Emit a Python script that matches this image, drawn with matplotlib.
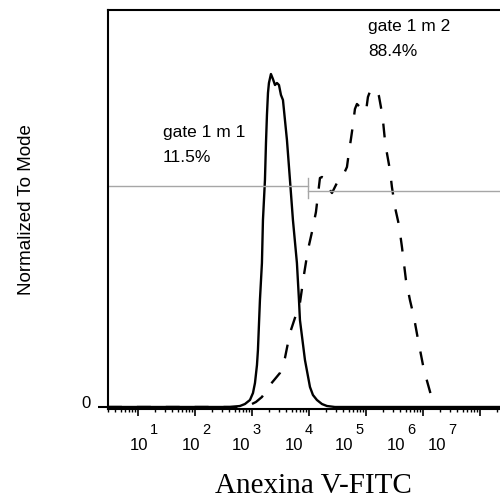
import numpy as np
import matplotlib
matplotlib.use("Agg")
import matplotlib.pyplot as plt

plt.rcParams['lines.scale_dashes'] = False

# ---- data (log10 fluorescence, normalized-to-mode %) ----
solid_log10 = [0.474, 2.088, 2.614, 2.789, 2.877, 2.965, 3.018, 3.053, 3.088, 3.105,
               3.140, 3.175, 3.193, 3.228, 3.246, 3.263, 3.281, 3.298, 3.333, 3.368,
               3.404, 3.439, 3.474, 3.509, 3.544, 3.579, 3.614, 3.667, 3.719, 3.789,
               3.825, 3.842, 3.930, 4.018, 4.070, 4.140, 4.228, 4.316, 4.456, 7.351]
solid_norm = [0.0, 0.0, 0.0, 0.25, 0.75, 1.75, 3.5, 6.0, 10.5, 14.25,
              26.75, 36.0, 46.75, 56.75, 66.0, 73.0, 78.5, 81.0, 83.25, 82.0,
              80.5, 81.0, 80.5, 78.0, 76.75, 71.75, 66.75, 56.75, 46.75, 36.0,
              26.75, 21.75, 11.75, 5.0, 3.0, 1.75, 0.75, 0.25, 0.0, 0.0]

dash_log10 = [0.474, 2.789, 2.965, 3.070, 3.175, 3.246, 3.316, 3.404, 3.491, 3.579,
              3.667, 3.754, 3.842, 3.912, 3.982, 4.053, 4.123, 4.158, 4.193, 4.228,
              4.263, 4.316, 4.368, 4.404, 4.456, 4.491, 4.579, 4.667, 4.702, 4.737,
              4.772, 4.807, 4.842, 4.912, 4.965, 5.000, 5.035, 5.088, 5.140, 5.193,
              5.228, 5.263, 5.298, 5.333, 5.368, 5.421, 5.456, 5.509, 5.579, 5.632,
              5.702, 5.772, 5.842, 5.912, 6.018, 6.175]
dash_norm = [0.0, 0.0, 0.5, 1.25, 2.5, 4.0, 5.5, 7.0, 8.5, 12.25,
             18.5, 22.25, 26.0, 33.0, 39.25, 43.75, 48.75, 53.0, 57.25, 57.5,
             57.25, 55.5, 54.25, 53.5, 55.0, 56.0, 57.25, 60.0, 63.75, 67.0,
             70.5, 74.5, 75.75, 74.75, 74.25, 73.75, 77.5, 79.5, 79.5, 79.0,
             77.75, 75.0, 71.75, 66.75, 63.5, 59.25, 55.0, 50.0, 45.5, 40.0,
             31.75, 26.75, 22.5, 17.0, 9.25, 1.25]

gate_boundary_log10 = 3.982
gates = [("gate 1 m 1", "11.5%"), ("gate 1 m 2", "88.4%")]
exponents = ["1", "2", "3", "4", "5", "6", "7"]
xlabel = "Anexina V-FITC"
ylabel = "Normalized To Mode"

# ---- layout helpers (figure pixel coordinates, 500x500) ----
W = H = 500.0
def fp(px, py):
    return (px / W, 1 - py / H)

fig = plt.figure(figsize=(5, 5), dpi=100)
ax = fig.add_axes([108 / W, 1 - 409 / H, 393 / W, 399 / H])

xs = 10 ** np.array(solid_log10)
xd = 10 ** np.array(dash_log10)
ax.plot(xd, dash_norm, color='black', lw=1.7, linestyle=(0, (10.0, 10.8)),
        solid_capstyle='butt', dash_capstyle='butt')
ax.plot(xs, solid_norm, color='black', lw=1.7, solid_joinstyle='round')

ax.set_xscale('log')
ax.set_xlim(10 ** 0.474, 10 ** 7.37)
ax.set_ylim(-0.5, 99.25)

# gate marker
gb = 10 ** gate_boundary_log10
gcol = '#a6a6a6'
ax.plot([ax.get_xlim()[0], gb], [55.25, 55.25], color=gcol, lw=1.0)
ax.plot([gb, ax.get_xlim()[1]], [54.0, 54.0], color=gcol, lw=1.0)
ax.plot([gb, gb], [52.25, 57.25], color=gcol, lw=1.0)

for s in ['top', 'left', 'bottom']:
    ax.spines[s].set_linewidth(1.5)
ax.spines['right'].set_visible(False)

ax.set_xticks([10 ** k for k in range(1, 8)])
ax.xaxis.set_minor_locator(matplotlib.ticker.LogLocator(base=10, subs=np.arange(2, 10), numticks=30))
ax.xaxis.set_minor_formatter(matplotlib.ticker.NullFormatter())
ax.set_xticklabels([])
ax.tick_params(axis='x', which='major', length=5, width=1.2, direction='out')
ax.tick_params(axis='x', which='minor', length=2.5, width=1.0, direction='out')
ax.set_yticks([0])
ax.set_yticklabels([])
ax.tick_params(axis='y', length=7.5, width=1.5, direction='out')

sans = 'Liberation Sans'
# x tick labels "10^n"
label_left_px = [130, 182, 232, 285, 335, 387, 428]
for lp, e in zip(label_left_px, exponents):
    fig.text(*fp(lp, 450), "10", family=sans, fontsize=12, ha='left', va='baseline')
    fig.text(*fp(lp + 20, 434.5), e, family=sans, fontsize=10.5, ha='left', va='baseline')

fig.text(*fp(86, 408.5), "0", family=sans, fontsize=12, ha='center', va='baseline')

# gate annotations
fig.text(*fp(163, 137), gates[0][0], family=sans, fontsize=12.5, ha='left', va='baseline')
fig.text(*fp(163, 162), gates[0][1], family=sans, fontsize=12.5, ha='left', va='baseline')
fig.text(*fp(368, 31), gates[1][0], family=sans, fontsize=12.5, ha='left', va='baseline')
fig.text(*fp(368, 55.5), gates[1][1], family=sans, fontsize=12.5, ha='left', va='baseline')

fig.text(*fp(31, 210), ylabel, family=sans, fontsize=13.5, rotation=90,
         ha='center', va='baseline', rotation_mode='anchor')
fig.text(*fp(313.5, 493), xlabel, family='Liberation Serif', fontsize=21,
         ha='center', va='baseline')

fig.savefig('out.png', dpi=100)
